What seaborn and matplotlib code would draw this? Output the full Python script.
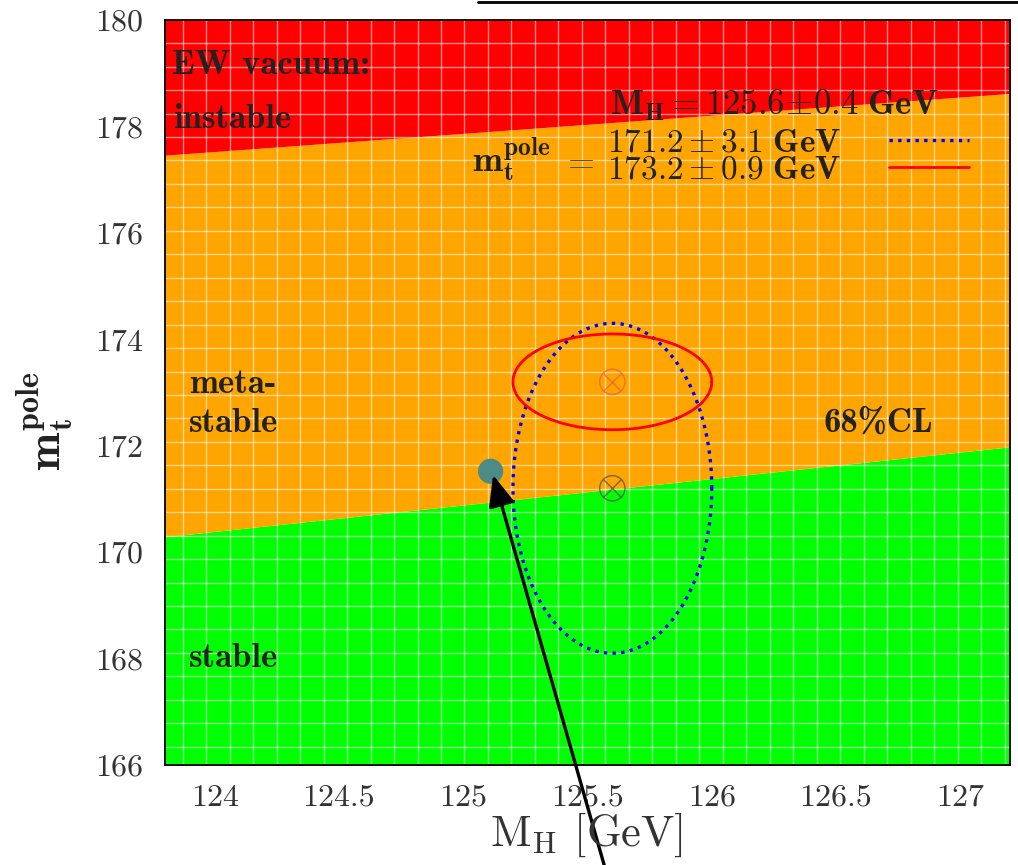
import numpy as np
import matplotlib
matplotlib.use("Agg")
import matplotlib.pyplot as plt
from matplotlib.lines import Line2D
from matplotlib.ticker import FixedLocator, FuncFormatter
import seaborn as sns
import pandas as pd

# ---- data -------------------------------------------------------------
# stability boundaries (top-quark pole mass vs Higgs mass), read at the plot edges
mh_edge = [123.8, 127.2]
mt_stable_edge = [170.29, 171.98]     # below: stable
mt_instable_edge = [177.46, 178.62]   # above: instable

# measurements (68% CL)
mh_central, mh_err = 125.6, 0.4
mt_central = [171.2, 173.2]
mt_err = [3.1, 0.9]
mt_labels = [r"$\mathbf{171.2\pm3.1\ GeV}$", r"$\mathbf{173.2\pm0.9\ GeV}$"]

# highlighted point
point_mh, point_mt = [125.11], [171.52]
arrow_tail = (125.567, 164.12)
arrow_tip = (125.12, 171.45)

x_ticks = [124, 124.5, 125, 125.5, 126, 126.5, 127]
y_ticks = [166, 168, 170, 172, 174, 176, 178, 180]

# ---- style ------------------------------------------------------------
sns.set_theme(style="white")
plt.rcParams["font.family"] = "serif"
plt.rcParams["font.serif"] = ["cmr10"]
plt.rcParams["mathtext.fontset"] = "cm"
plt.rcParams["axes.formatter.use_mathtext"] = True
plt.rcParams["axes.unicode_minus"] = False

TXT = "#222222"
RED, ORANGE, GREEN = "#ff0000", "#ffa500", "#00ff00"

fig = plt.figure(figsize=(10.18, 8.65), dpi=100)
ax = fig.add_axes([165 / 1018, 1 - 765 / 865, 845 / 1018, 745 / 865])

# coloured stability regions
ax.fill_between(mh_edge, 166, mt_stable_edge, color=GREEN, lw=0, zorder=1)
ax.fill_between(mh_edge, mt_stable_edge, mt_instable_edge, color=ORANGE, lw=0, zorder=1)
ax.fill_between(mh_edge, mt_instable_edge, 180, color=RED, lw=0, zorder=1)

# fine white mesh over the regions
for gx in np.arange(123.871, 127.2, 0.0945):
    ax.axvline(gx, color="white", lw=1.0, alpha=0.55, zorder=1.5)
for gy in np.arange(166.343, 180, 0.4407):
    ax.axhline(gy, color="white", lw=1.0, alpha=0.55, zorder=1.5)

# 68% CL ellipses
t = np.linspace(0, 2 * np.pi, 400)
styles = [dict(color="#0000ff", lw=2.4, linestyle=(0, (1, 1.6)), dash_capstyle="butt"),
          dict(color="#ff0000", lw=2.0, linestyle="-")]
handles = []
for mt, err, lab, st in zip(mt_central, mt_err, mt_labels, styles):
    df = pd.DataFrame({"mh": mh_central + mh_err * np.cos(t),
                       "mt": mt + err * np.sin(t)})
    sns.lineplot(data=df, x="mh", y="mt", sort=False, estimator=None,
                 ax=ax, zorder=4, **st)
    handles.append(Line2D([], [], **st))

# central values marked with circled crosses
for mt, col in zip(mt_central, ["#555555", "#f0603a"]):
    ax.scatter([mh_central], [mt], s=330, facecolors="none", edgecolors=col,
               linewidths=1.0, alpha=0.8, zorder=5)
    ax.scatter([mh_central], [mt], s=160, marker="x", color=col,
               linewidths=1.0, alpha=0.8, zorder=5)

sns.scatterplot(x=point_mh, y=point_mt, s=330, color="#4e8b86",
                edgecolor="none", ax=ax, zorder=6)
ax.annotate("", xy=arrow_tip, xytext=arrow_tail, annotation_clip=False,
            arrowprops=dict(arrowstyle="-|>,head_length=0.95,head_width=0.4",
                            mutation_scale=20, lw=2.4, color="black",
                            shrinkA=0, shrinkB=0), zorder=7)

# axes styling
ax.set_xlim(123.8, 127.2)
ax.set_ylim(166, 180)
ax.set_xlabel("")
ax.set_ylabel("")
ax.xaxis.set_major_locator(FixedLocator(x_ticks))
ax.yaxis.set_major_locator(FixedLocator(y_ticks))
fmt = FuncFormatter(lambda v, p: f"{v:g}")
ax.xaxis.set_major_formatter(fmt)
ax.yaxis.set_major_formatter(fmt)
ax.tick_params(axis="both", length=0, labelsize=23, colors="#333333")
ax.tick_params(axis="x", pad=14)
ax.tick_params(axis="y", pad=16)
for s in ax.spines.values():
    s.set_color("black")
    s.set_linewidth(1.3)
    s.set_zorder(8)

# region labels
bold = dict(fontfamily="cmb10", fontsize=25, color=TXT, va="baseline", zorder=9)
ax.text(123.828, 178.985, "EW vacuum:", **bold)
ax.text(123.832, 177.976, "instable", **bold)
ax.text(123.896, 172.99, "meta-", **bold)
ax.text(123.896, 172.257, "stable", **bold)
ax.text(123.896, 167.84, "stable", **bold)
ax.text(126.45, 172.257, "68%CL", **bold)

# legend block
ax.text(126.912, 178.22, r"$\mathbf{M_H = 125.6\!\pm\!0.4\ GeV}$", ha="right",
        va="baseline", fontsize=25, color=TXT, zorder=9)
ax.text(125.035, 177.16, r"$\mathbf{m_t^{pole}}$", ha="left", va="baseline",
        fontsize=26, color=TXT, zorder=9)
ax.text(125.462, 177.33, r"$=$", ha="center", va="center",
        fontsize=25, color="#555555", zorder=9)
leg = ax.legend(handles, mt_labels, loc="upper left", bbox_to_anchor=(125.578, 177.96),
                bbox_transform=ax.transData, frameon=False,
                fontsize=24, handlelength=2.4, handletextpad=1.45,
                labelspacing=-0.08, borderpad=0, borderaxespad=0)
leg.set_zorder(9)
for txt in leg.get_texts():
    txt.set_color(TXT)
# keys after the texts
for row in leg._legend_box.get_children()[1].get_children()[0].get_children():
    row._children = row.get_children()[::-1]

# axis titles
fig.text(586 / 1018, 1 - 835 / 865, r"$\mathrm{M_H}$ [GeV]", ha="center", va="center",
         fontsize=32, color="#333333")
fig.text(45 / 1018, 1 - 421 / 865, r"$\mathbf{m_t^{pole}}$", ha="center", va="center",
         rotation=90, fontsize=33, color="#222222")

# rule along the top edge
fig.add_artist(Line2D([478 / 1018, 1], [1 - 1.5 / 865] * 2, color="black", lw=2.0))

fig.savefig("out.png", dpi=100)
